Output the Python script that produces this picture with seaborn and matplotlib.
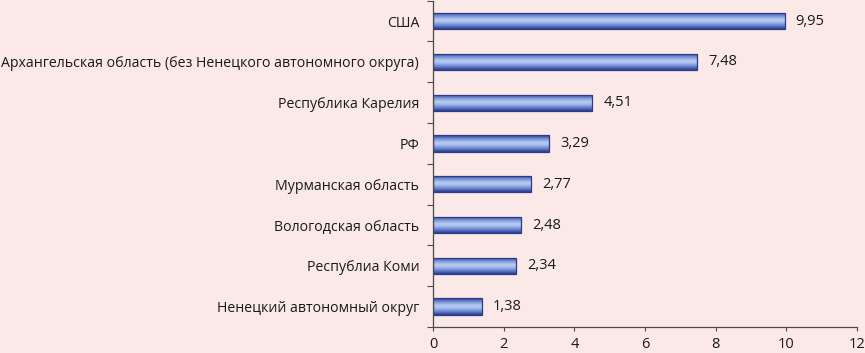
import numpy as np
import pandas as pd
import matplotlib
matplotlib.use("Agg")
import matplotlib.pyplot as plt
import seaborn as sns
from matplotlib.colors import LinearSegmentedColormap

categories = [
    "США",
    "Архангельская область (без Ненецкого автономного округа)",
    "Республика Карелия",
    "РФ",
    "Мурманская область",
    "Вологодская область",
    "Республиа Коми",
    "Ненецкий автономный округ",
]
values = [9.95, 7.48, 4.51, 3.29, 2.77, 2.48, 2.34, 1.38]
value_labels = ["9,95", "7,48", "4,51", "3,29", "2,77", "2,48", "2,34", "1,38"]
xticks = [0, 2, 4, 6, 8, 10, 12]

sns.set_theme(style="white")
plt.rcParams['font.family'] = ['Open Sans', 'DejaVu Sans']

bg = '#FAE9E7'
text_color = '#1A1A1A'
axis_color = '#4A4A4A'

fig = plt.figure(figsize=(8.65, 3.53), dpi=100)
fig.patch.set_facecolor(bg)
ax = fig.add_axes([0.5006, 0.0737, 0.4902, 0.9243])
ax.set_facecolor(bg)

df = pd.DataFrame({'cat': categories, 'val': values})
sns.barplot(data=df, y='cat', x='val', orient='h', width=0.4,
            color='#4A5FB0', edgecolor='#2B3A8A', linewidth=0.9, ax=ax)

ylim = ax.get_ylim()
cmap = LinearSegmentedColormap.from_list(
    'bar', [(0.0, '#2B3B90'), (0.22, '#7890D5'), (0.45, '#B8CEF2'),
            (0.6, '#A4BBEC'), (0.8, '#6680CA'), (1.0, '#2B3B90')])
grad = np.linspace(0, 1, 64).reshape(-1, 1)
for p in ax.patches:
    x0, y0 = p.get_x(), p.get_y()
    w, h = p.get_width(), p.get_height()
    im = ax.imshow(grad, extent=[x0, x0 + w, y0 + h, y0], aspect='auto',
                   cmap=cmap, origin='upper', zorder=p.get_zorder() + 0.1,
                   interpolation='bilinear')
    im.set_clip_path(p)
    p.set_facecolor('none')
    p.set_zorder(p.get_zorder() + 0.2)

ax.set_xlim(0, 12)
ax.set_ylim(ylim)

for i, (v, lab) in enumerate(zip(values, value_labels)):
    ax.annotate(lab, xy=(v, i), xytext=(8, 0), textcoords='offset points',
                va='center', ha='left', fontsize=10.5, color=text_color)

ax.set_xticks(xticks)
ax.set_xticklabels([str(t) for t in xticks], fontsize=10.5, color=text_color)
ax.set_yticks(range(len(categories)))
ax.set_yticklabels(categories, fontsize=10.2, color=text_color)
ax.set_yticks(np.arange(-0.5, len(categories), 1.0), minor=True)
ax.tick_params(axis='y', which='major', length=0, pad=10)
ax.tick_params(axis='y', which='minor', length=4, width=0.8, color=axis_color, direction='out', left=True)
ax.tick_params(axis='x', which='major', length=3, width=0.8, color=axis_color, direction='out', pad=4, bottom=True)
ax.set_xlabel('')
ax.set_ylabel('')

for s in ['top', 'right']:
    ax.spines[s].set_visible(False)
for s in ['left', 'bottom']:
    ax.spines[s].set_color(axis_color)
    ax.spines[s].set_linewidth(0.9)

fig.savefig('out.png', dpi=100, facecolor=bg)
